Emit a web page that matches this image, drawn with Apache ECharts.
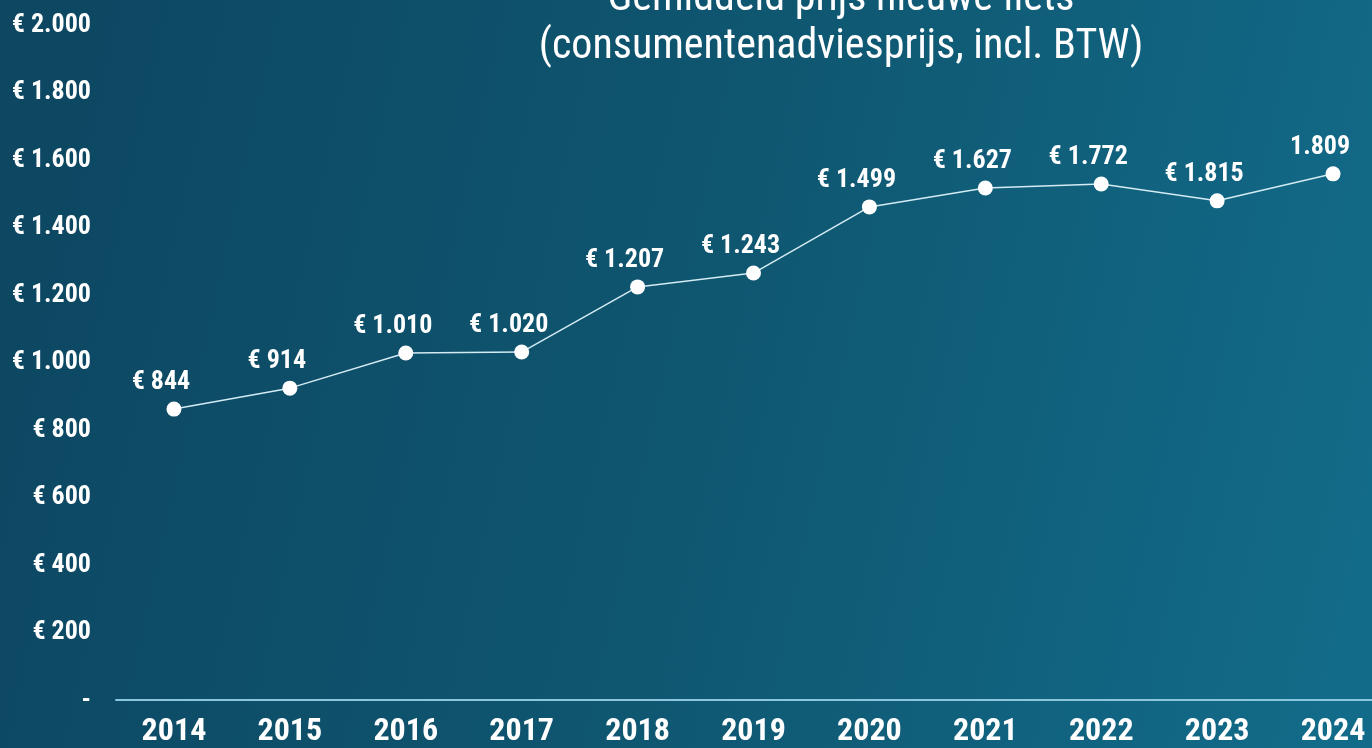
<!DOCTYPE html>
<html>
<head>
<meta charset="utf-8">
<title>Gemiddeld prijs nieuwe fiets</title>
<script src="https://cdn.jsdelivr.net/npm/echarts@6/dist/echarts.min.js"></script>
<style>
html, body { margin: 0; padding: 0; }
#main { width: 1372px; height: 748px; }
</style>
</head>
<body>
<div id="main"></div>
<script>
// jaren op de x-as
var years = ['2014', '2015', '2016', '2017', '2018', '2019', '2020', '2021', '2022', '2023', '2024'];
// waarden zoals de punten in de grafiek staan
var prices = [862, 924, 1028, 1031, 1224, 1265, 1461, 1517, 1529, 1479, 1559];
// teksten boven de punten
var priceLabels = ['€ 844', '€ 914', '€ 1.010', '€ 1.020', '€ 1.207', '€ 1.243', '€ 1.499', '€ 1.627', '€ 1.772', '€ 1.815', '1.809'];
var titleLines = ['Gemiddeld prijs nieuwe fiets', '(consumentenadviesprijs, incl. BTW)'];

var font = '"Roboto Condensed", "Liberation Sans Narrow", "Arial Narrow", "DejaVu Sans Condensed", sans-serif';

function euro(v) {
	if (v === 0) return '-';
	var s = String(v);
	if (s.length > 3) s = s.slice(0, s.length - 3) + '.' + s.slice(-3);
	return '€ ' + s;
}

var myChart = echarts.init(document.getElementById('main'));
var option = {
	backgroundColor: {
		type: 'linear', x: 0, y: 0.3, x2: 1, y2: 0.7,
		colorStops: [
			{ offset: 0, color: '#0d4762' },
			{ offset: 0.5, color: '#0f5670' },
			{ offset: 1, color: '#126b89' }
		]
	},
	textStyle: { fontFamily: font },
	graphic: [
		{ type: 'text', x: 841, y: -1, style: { text: titleLines[0], fill: '#ffffff', font: 'normal 42px ' + font, align: 'center', verticalAlign: 'middle' } },
		{ type: 'text', x: 841, y: 47, style: { text: titleLines[1], fill: '#ffffff', font: 'normal 42px ' + font, align: 'center', verticalAlign: 'middle' } }
	],
	grid: { left: 116, width: 1275, top: 25, bottom: 48, containLabel: false, outerBoundsMode: 'none' },
	xAxis: {
		type: 'category',
		data: years,
		boundaryGap: true,
		axisLine: { lineStyle: { color: '#8cc6dc', width: 2 } },
		axisTick: { show: false },
		axisLabel: { color: '#ffffff', fontSize: 32, fontWeight: 'bold', fontFamily: font, margin: 16 }
	},
	yAxis: {
		type: 'value',
		min: 0, max: 2000, interval: 200,
		axisLine: { show: false },
		axisTick: { show: false },
		splitLine: { show: false },
		axisLabel: { color: '#ffffff', fontSize: 26, fontWeight: 'bold', fontFamily: font, margin: 25, formatter: euro }
	},
	series: [{
		type: 'line',
		data: prices,
		symbol: 'circle',
		symbolSize: 15,
		itemStyle: { color: '#ffffff' },
		lineStyle: { color: '#d3ebf3', width: 1.5 },
		label: {
			show: true,
			position: 'top',
			distance: 6,
			offset: [-13, 0],
			color: '#ffffff',
			fontSize: 26,
			fontWeight: 'bold',
			fontFamily: font,
			formatter: function (p) { return priceLabels[p.dataIndex]; }
		},
		animation: false
	}],
	animation: false
};
myChart.setOption(option);
</script>
</body>
</html>
